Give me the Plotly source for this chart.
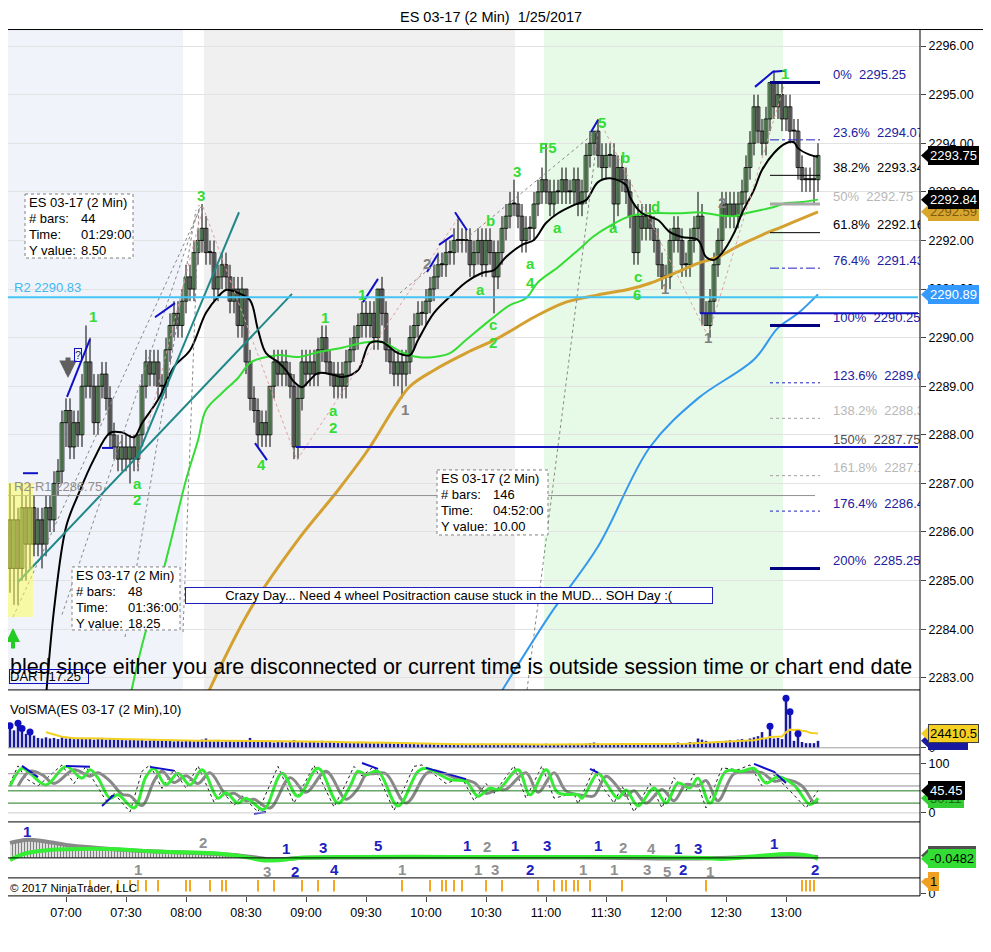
import pandas as pd
import plotly.graph_objects as go

DAY = "2017-01-25 "
FONT = "Liberation Sans, Arial, sans-serif"

# ---- price bars (2 min, 06:32 .. 13:16) ----
FIRST_OPEN = 2286.25
CLOSE = [
    2285.25, 2286.25, 2285.25, 2286.50, 2285.75, 2286.50, 2285.75, 2286.25, 2285.75, 2286.50,
    2286.25, 2287.00, 2287.25, 2288.25, 2288.50, 2287.75, 2288.25, 2288.00, 2289.00, 2289.50,
    2289.00, 2288.25, 2289.00, 2289.25, 2288.75, 2288.00, 2287.75, 2287.50, 2287.75, 2287.50,
    2287.75, 2287.50, 2288.00, 2289.00, 2289.50, 2289.25, 2289.50, 2289.00, 2289.00, 2289.75,
    2290.25, 2290.50, 2290.25, 2290.75, 2291.25, 2291.00, 2291.75, 2292.00, 2292.25, 2291.75,
    2291.75, 2291.00, 2291.25, 2291.50, 2291.25, 2290.75, 2291.00, 2290.25, 2291.00, 2289.50,
    2288.75, 2288.50, 2288.00, 2288.25, 2288.00, 2289.00, 2289.50, 2289.25, 2289.50, 2289.25,
    2289.00, 2287.75, 2288.75, 2289.50, 2289.25, 2289.50, 2289.25, 2289.75, 2290.00, 2289.50,
    2289.25, 2289.00, 2289.25, 2289.00, 2289.50, 2289.75, 2290.00, 2290.25, 2290.50, 2290.25,
    2290.50, 2290.00, 2291.00, 2290.50, 2289.75, 2289.50, 2289.25, 2289.50, 2289.25, 2289.50,
    2290.00, 2290.25, 2290.50, 2290.50, 2290.75, 2291.00, 2291.25, 2291.50, 2291.50, 2291.75,
    2291.75, 2292.00, 2292.00, 2292.00, 2292.00, 2291.50, 2291.75, 2292.00, 2291.50, 2292.00,
    2291.75, 2291.25, 2291.75, 2292.25, 2292.50, 2292.75, 2292.75, 2292.50, 2292.00, 2292.25,
    2292.25, 2292.75, 2293.00, 2293.25, 2293.00, 2292.75, 2293.00, 2293.00, 2293.25, 2293.00,
    2293.00, 2293.25, 2292.75, 2293.00, 2293.75, 2294.00, 2294.25, 2293.75, 2293.50, 2293.75,
    2293.75, 2292.75, 2293.50, 2293.25, 2293.00, 2292.50, 2291.75, 2292.50, 2292.25, 2292.50,
    2292.25, 2292.00, 2291.50, 2291.25, 2291.25, 2292.00, 2292.25, 2292.00, 2291.50, 2291.50,
    2292.00, 2292.25, 2292.50, 2290.50, 2290.25, 2290.75, 2291.50, 2292.00, 2292.75, 2292.50,
    2292.75, 2292.50, 2292.75, 2293.00, 2293.50, 2294.00, 2294.75, 2294.25, 2294.00, 2294.50,
    2295.25, 2294.75, 2295.00, 2294.50, 2294.75, 2294.25, 2294.25, 2293.50, 2293.25, 2293.25,
    2293.25, 2293.25, 2293.75,
]
# wick length beyond the body, in ticks (0.25)
WICK_UP = [
    3, 2, 1, 2, 1, 2, 1, 1, 1, 1,   1, 1, 1, 1, 1, 1, 1, 1, 1, 3,
    2, 1, 1, 1, 1, 1, 1, 1, 1, 1,   1, 1, 0, 1, 1, 1, 1, 1, 1, 1,
    1, 1, 1, 1, 1, 1, 1, 1, 2, 1,   1, 1, 1, 1, 1, 1, 1, 1, 1, 0,
    1, 1, 1, 1, 1, 0, 1, 1, 1, 1,   1, 1, 1, 1, 1, 1, 1, 1, 1, 1,
    1, 1, 1, 1, 1, 1, 1, 1, 1, 1,   1, 1, 0, 1, 1, 1, 1, 1, 1, 1,
    1, 1, 1, 1, 1, 1, 1, 1, 1, 1,   1, 1, 2, 1, 1, 1, 1, 1, 1, 1,
    1, 1, 1, 1, 1, 1, 2, 1, 1, 1,   1, 1, 1, 1, 3, 1, 1, 1, 1, 1,
    1, 1, 1, 1, 1, 1, 0, 1, 1, 1,   1, 1, 1, 1, 1, 1, 1, 1, 1, 1,
    1, 1, 1, 1, 1, 1, 1, 1, 1, 1,   1, 1, 2, 1, 1, 1, 1, 1, 1, 1,
    1, 1, 1, 1, 1, 1, 1, 1, 1, 1,   0, 1, 1, 1, 1, 1, 1, 1, 1, 1,
    1, 2, 1,
]
WICK_DN = [
    2, 3, 3, 1, 3, 2, 1, 1, 2, 1,   1, 1, 1, 1, 2, 1, 1, 1, 1, 1,
    1, 1, 1, 1, 1, 1, 1, 1, 1, 1,   2, 1, 1, 1, 1, 1, 1, 1, 1, 1,
    1, 1, 1, 1, 1, 1, 1, 1, 1, 1,   1, 1, 1, 1, 1, 1, 1, 1, 1, 1,
    1, 1, 1, 1, 1, 1, 1, 1, 1, 1,   1, 1, 1, 1, 1, 1, 1, 1, 1, 1,
    1, 1, 1, 1, 1, 1, 1, 1, 1, 1,   1, 1, 1, 1, 1, 1, 1, 1, 2, 1,
    1, 1, 1, 1, 1, 1, 1, 1, 1, 1,   1, 1, 1, 1, 1, 1, 1, 1, 1, 1,
    1, 3, 1, 1, 1, 1, 1, 1, 1, 1,   1, 1, 1, 1, 1, 1, 1, 1, 1, 1,
    1, 1, 1, 1, 1, 1, 1, 1, 1, 1,   1, 2, 1, 1, 1, 1, 1, 1, 1, 1,
    1, 1, 1, 1, 1, 1, 1, 1, 1, 1,   1, 1, 1, 1, 0, 1, 1, 1, 1, 1,
    1, 1, 1, 1, 1, 1, 1, 1, 1, 1,   1, 1, 1, 1, 1, 1, 1, 1, 1, 1,
    1, 2, 1,
]

# ---- volume (thousands of contracts) ----
VOLUME_K = [
    38, 30, 42, 33, 24, 27, 21, 17, 16, 18,   16, 17, 15, 18, 16, 17, 15, 16, 17, 15,
    16, 14, 15, 17, 14, 15, 16, 14, 15, 13,   14, 15, 13, 14, 12, 13, 14, 12, 13, 12,
    12, 11, 13, 11, 12, 13, 11, 12, 14, 16,   12, 11, 12, 10, 11, 12, 10, 11, 12, 11,
    17, 12, 11, 10, 11, 10, 9, 11, 10, 9,     10, 13, 11, 10, 9, 10, 11, 9, 12, 9,
    10, 9, 8, 10, 9, 8, 9, 10, 8, 9,          8, 9, 10, 8, 9, 8, 7, 9, 8, 7,
    8, 7, 6, 7, 6, 7, 6, 5, 6, 7,             6, 5, 6, 7, 5, 6, 5, 6, 7, 5,
    6, 7, 5, 6, 5, 6, 7, 6, 5, 6,             5, 6, 5, 6, 7, 6, 5, 6, 5, 6,
    7, 6, 5, 6, 7, 8, 9, 7, 6, 5,             6, 7, 6, 8, 7, 6, 7, 6, 5, 6,
    5, 6, 7, 6, 8, 7, 6, 9, 7, 8,             10, 9, 16, 14, 12, 9, 10, 11, 9, 12,
    13, 11, 14, 15, 13, 16, 18, 20, 27, 15,   37, 16, 17, 15, 85, 62, 12, 24, 10, 8,
    8, 8, 12,
]
VOL_DOT_BARS = [0, 2, 3, 5, 190, 194, 195, 197]

# ---- moving averages, read at selected bars ----
MA_FAST_BARS = [9, 11, 14, 17, 21, 25, 28, 31, 33, 37, 41, 45, 49, 52, 54, 57, 60, 62, 64, 67,
                69, 71, 73, 75, 77, 81, 83, 87, 90, 93, 97, 100, 102, 106, 111, 114, 118, 121,
                124, 128, 131, 134, 137, 141, 144, 147, 150, 154, 155, 158, 162, 165, 168, 172,
                174, 176, 178, 181, 183, 186, 188, 191, 194, 196, 197, 200, 202]
MA_FAST = [2282.6, 2284.4, 2286.1, 2286.76, 2287.5, 2288.04, 2288.05, 2287.95, 2288.24, 2288.72,
           2289.4, 2289.74, 2290.51, 2290.84, 2290.98, 2290.92, 2290.77, 2290.16, 2289.68, 2289.5,
           2289.33, 2289.09, 2288.98, 2289.13, 2289.27, 2289.23, 2289.19, 2289.33, 2289.89, 2289.91,
           2289.68, 2289.64, 2289.95, 2290.51, 2290.92, 2291.14, 2291.33, 2291.39, 2291.66, 2291.91,
           2292.01, 2292.36, 2292.56, 2292.73, 2292.83, 2293.2, 2293.28, 2293.14, 2292.89, 2292.56,
           2292.42, 2292.17, 2292.07, 2292.01, 2291.66, 2291.6, 2291.74, 2292.15, 2292.56, 2293.04,
           2293.45, 2293.8, 2294.0, 2294.02, 2293.9, 2293.76, 2293.72]
MA_MID_BARS = [30, 33, 39, 44, 47, 49, 53, 57, 60, 63, 67, 72, 77, 83, 88, 93, 98, 102, 106, 110,
               114, 120, 125, 129, 132, 137, 142, 146, 150, 155, 160, 168, 172, 177, 181, 184, 188,
               191, 194, 198, 202]
MA_MID = [2282.6, 2283.67, 2285.42, 2287.07, 2287.89, 2288.51, 2288.86, 2289.17, 2289.48, 2289.58,
          2289.64, 2289.6, 2289.7, 2289.79, 2289.89, 2289.91, 2289.7, 2289.6, 2289.6, 2289.68,
          2289.95, 2290.36, 2290.67, 2290.81, 2291.14, 2291.45, 2291.8, 2292.09, 2292.3, 2292.5,
          2292.56, 2292.56, 2292.58, 2292.52, 2292.5, 2292.56, 2292.63, 2292.69, 2292.77, 2292.79,
          2292.84]
MA_SLOW_BARS = [49, 60, 72, 82, 90, 96, 100, 106, 114, 122, 131, 139, 147, 155, 160, 164, 168, 172,
                177, 181, 185, 189, 193, 197, 202]
MA_SLOW = [2282.6, 2284.4, 2285.84, 2286.86, 2287.75, 2288.55, 2289.0, 2289.33, 2289.68, 2289.99,
           2290.42, 2290.73, 2290.88, 2291.0, 2291.12, 2291.25, 2291.39, 2291.53, 2291.66, 2291.84,
           2292.0, 2292.15, 2292.28, 2292.42, 2292.59]
MA_LONG_BARS = [122, 135, 147, 160, 172, 186, 192, 197, 202]
MA_LONG = [2282.6, 2284.3, 2285.7, 2287.75, 2288.75, 2289.55, 2290.2, 2290.5, 2290.89]

# ---- stochastics, read at turning points ----
STO_K_BARS = [0, 3, 5, 9, 14, 18, 20, 22, 25, 27, 31, 34, 36, 39, 42, 45, 48, 52, 54, 57,
              59, 63, 64, 68, 72, 77, 82, 85, 87, 89, 92, 97, 102, 104, 110, 114, 117, 120, 122, 127,
              130, 134, 137, 142, 143, 147, 149, 152, 154, 157, 161, 164, 167, 170, 172, 175, 179, 183,
              186, 189, 192, 196, 200, 202]
STO_K = [54, 91, 81, 57, 95, 71, 88, 71, 30, 37, 10, 74, 91, 57, 81, 57, 88, 30, 41, 20,
         30, 7, 10, 81, 34, 91, 20, 54, 85, 78, 85, 14, 85, 91, 68, 64, 34, 51, 47, 88,
         37, 88, 41, 37, 30, 81, 61, 30, 47, 14, 51, 20, 61, 51, 71, 20, 85, 85, 91, 61,
         74, 57, 17, 30.11]
STO_D_BARS = [2, 5, 8, 11, 16, 20, 22, 25, 28, 30, 33, 36, 38, 41, 44, 47, 50, 54, 56, 59,
              61, 65, 70, 74, 79, 84, 87, 89, 91, 94, 99, 104, 106, 112, 116, 119, 122, 124, 129, 132,
              136, 139, 144, 146, 149, 151, 154, 156, 159, 163, 166, 169, 172, 174, 177, 181, 185, 188,
              191, 194, 198, 201, 202]
STO_D = [55, 85, 78, 60, 88, 75, 82, 65, 38, 35, 15, 65, 85, 62, 76, 60, 82, 38, 40, 25,
         28, 10, 72, 42, 85, 28, 50, 78, 80, 80, 20, 80, 86, 70, 62, 40, 48, 48, 82, 42,
         82, 45, 35, 35, 75, 62, 35, 45, 20, 48, 25, 58, 55, 66, 25, 80, 84, 82, 65, 68,
         55, 22, 24]
STO_RAW_BARS = [0, 2, 4, 7, 13, 16, 19, 21, 24, 26, 30, 33, 35, 38, 41, 44, 47, 51, 53, 56,
                58, 62, 67, 71, 76, 81, 84, 86, 88, 91, 96, 101, 103, 109, 113, 116, 119, 121, 126, 129,
                133, 136, 141, 142, 146, 148, 151, 153, 156, 160, 163, 166, 169, 171, 174, 178, 182, 185,
                188, 191, 195, 199, 202]
STO_RAW = [60, 96, 70, 55, 98, 60, 95, 65, 25, 40, 2, 85, 98, 50, 88, 50, 96, 22, 45, 15,
           35, 2, 95, 20, 97, 12, 60, 95, 75, 95, 5, 95, 98, 60, 72, 25, 60, 40, 96, 30,
           96, 30, 40, 18, 90, 55, 20, 55, 2, 60, 10, 72, 45, 80, 10, 92, 88, 98, 55, 78,
           45, 10, 45.45]
STO_DIV = [[(3, 96), (7, 73)], [(14, 96), (20, 94)], [(23, 14), (26, 37)], [(35, 94), (41, 86)],
           [(61, -2), (64, 2)], [(88, 102), (92, 90)], [(104, 92), (114, 69)], [(145, 90), (147, 82)],
           [(186, 100), (191, 84), (194, 61)]]

# ---- oscillator panel ----
OSC_SIG_BARS = [0, 4, 8, 14, 22, 31, 39, 48, 56, 61, 64, 69, 72, 85, 98, 110, 122, 137, 153, 162,
                172, 178, 187, 195, 202]
OSC_SIG = [0.75, 0.9, 0.85, 0.65, 0.5, 0.37, 0.3, 0.23, 0.15, 0.03, -0.05, -0.05, 0.0, 0.02, 0.03,
           0.03, 0.02, 0.02, 0.0, -0.03, -0.03, 0.0, 0.05, 0.1, 0.05]
OSC_BARS = [0, 4, 10, 18, 27, 35, 43, 52, 60, 63, 68, 72, 85, 110, 135, 160, 174, 178, 187, 195, 200, 202]
OSC = [-0.1, 0.23, 0.4, 0.45, 0.43, 0.33, 0.28, 0.22, 0.0, -0.12, -0.1, 0.0, 0.05, 0.05, 0.05, 0.04,
       0.0, -0.05, 0.1, 0.2, 0.1, -0.0482]

SIGNAL_BARS = [20, 27, 30, 32, 34, 37, 44, 45, 50, 53, 54, 62, 66, 73, 77, 81, 98, 105, 108, 109,
               111, 113, 119, 123, 132, 136, 138, 139, 141, 142, 145, 153, 174, 198, 199, 200, 201]

TIME_TICKS = ["07:00", "07:30", "08:00", "08:30", "09:00", "09:30", "10:00", "10:30",
              "11:00", "11:30", "12:00", "12:30", "13:00"]

FIB_PCT = ["0%", "23.6%", "38.2%", "50%", "61.8%", "76.4%", "100%", "123.6%", "138.2%",
           "150%", "161.8%", "176.4%", "200%"]
FIB_PRICE = [2295.25, 2294.07, 2293.34, 2292.75, 2292.16, 2291.43, 2290.25, 2289.07, 2288.34,
             2287.75, 2287.16, 2286.43, 2285.25]

WAVE_LABELS = [
    ("07:13:30", 2290.44, "1", "g"), ("08:07:30", 2292.93, "3", "g"), ("07:35:30", 2286.99, "a", "g"),
    ("07:35:30", 2286.66, "2", "g"), ("08:37:30", 2287.38, "4", "g"), ("09:09:30", 2290.42, "1", "g"),
    ("09:13:30", 2288.51, "a", "g"), ("09:13:30", 2288.16, "2", "g"), ("09:28:00", 2290.88, "1", "g"),
    ("10:32:00", 2292.42, "b", "g"), ("10:27:00", 2291.0, "a", "g"), ("10:33:30", 2290.26, "c", "g"),
    ("10:33:30", 2289.89, "2", "g"), ("10:45:30", 2293.41, "3", "g"), ("10:52:00", 2291.53, "a", "g"),
    ("10:52:00", 2291.14, "4", "g"), ("11:05:30", 2292.26, "a", "g"), ("11:01:00", 2293.92, "F5", "g"),
    ("11:28:00", 2294.42, "5", "g"), ("11:39:30", 2293.70, "b", "g"), ("11:33:30", 2292.26, "a", "g"),
    ("11:54:30", 2292.69, "d", "g"), ("11:46:00", 2291.25, "c", "g"), ("11:45:30", 2290.88, "6", "g"),
    ("12:59:30", 2295.44, "1", "g"),
    ("10:00:30", 2291.53, "2", "k"), ("09:49:30", 2288.53, "1", "k"), ("11:59:30", 2291.02, "1", "k"),
    ("12:21:00", 2290.01, "1", "k"), ("12:28:00", 2292.79, "2", "k"),
]
OSC_LABELS = [
    ("06:40:30", 1.3, "1", "b"), ("08:08:30", 0.75, "2", "k"), ("07:36:00", -0.6, "1", "k"),
    ("08:40:30", -0.7, "3", "k"), ("08:50:00", 0.45, "1", "b"), ("08:54:30", -0.7, "2", "b"),
    ("09:08:30", 0.5, "3", "b"), ("09:14:00", -0.6, "4", "b"), ("09:36:00", 0.6, "5", "b"),
    ("09:48:00", -0.6, "1", "k"), ("10:20:30", 0.6, "1", "b"), ("10:30:30", 0.55, "2", "k"),
    ("10:26:00", -0.6, "1", "k"), ("10:34:30", -0.6, "3", "k"), ("10:44:30", 0.6, "1", "b"),
    ("10:52:00", -0.6, "2", "b"), ("11:00:30", 0.6, "3", "b"), ("11:18:30", -0.6, "1", "k"),
    ("11:26:00", 0.6, "1", "b"), ("11:34:00", -0.6, "1", "k"), ("11:38:30", 0.5, "2", "k"),
    ("11:50:30", -0.6, "3", "k"), ("11:52:30", 0.45, "4", "k"), ("12:00:30", -0.7, "5", "k"),
    ("12:06:00", 0.45, "1", "b"), ("12:08:30", -0.6, "2", "b"), ("12:16:00", 0.45, "3", "b"),
    ("12:22:00", -0.7, "1", "k"), ("12:54:00", 0.7, "1", "b"), ("13:14:30", -0.6, "2", "b"),
]

# page has an 8px body margin and the capture is squeezed a little vertically:
# lay the figure out in page pixels
W, H, OFF, VS = 975, 928, 8, 952 / 957


def ts(hm):
    return DAY + hm


def PX(x):
    return (x - OFF) / W


def PY(y):
    return 1 - (y / VS - OFF) / H


times = pd.date_range(DAY + "06:32", periods=len(CLOSE), freq="2min")
opens = [FIRST_OPEN] + CLOSE[:-1]
highs = [max(o, c) + 0.25 * u for o, c, u in zip(opens, CLOSE, WICK_UP)]
lows = [min(o, c) - 0.25 * d for o, c, d in zip(opens, CLOSE, WICK_DN)]
vol = pd.Series(VOLUME_K) * 1000
vol_sma = vol.rolling(10).mean()

fig = go.Figure()
shapes = []
ann = []


def note(x, y, text, size=12, color="black", xa="center", **kw):
    ann.append(dict(xref="paper", yref="paper", x=PX(x), y=PY(y), text=text, xanchor=xa,
                    yanchor="middle", showarrow=False, font=dict(size=size, color=color), **kw))


# background sessions
for x0, x1, col in [("06:31", "07:58:30", "#f1f3fb"), ("08:09", "10:44:30", "#f0f0f0"),
                    ("10:59", "12:58:30", "#e7f9e7")]:
    shapes.append(dict(type="rect", xref="x", yref="paper", x0=ts(x0), x1=ts(x1),
                       y0=PY(690), y1=PY(30), fillcolor=col, line=dict(width=0), layer="below"))

# candles: wicks then bodies
wick_x, wick_y = [], []
for t, lo, hi in zip(times, lows, highs):
    wick_x += [t, t, None]
    wick_y += [lo, hi, None]
fig.add_trace(go.Scatter(x=wick_x, y=wick_y, mode="lines", line=dict(color="black", width=1),
                         xaxis="x", yaxis="y", hoverinfo="skip"))
body_base = [min(o, c) for o, c in zip(opens, CLOSE)]
body_len = [max(abs(c - o), 0.02) for o, c in zip(opens, CLOSE)]
body_col = ["#98dc98" if c > o else ("#a4a4a4" if c < o else "#000000") for o, c in zip(opens, CLOSE)]
fig.add_trace(go.Bar(x=times, y=body_len, base=body_base, width=116000,
                     marker=dict(color=body_col, line=dict(color="black", width=0.8)),
                     xaxis="x", yaxis="y", hoverinfo="skip"))

for bars, vals, col, w in [(MA_LONG_BARS, MA_LONG, "#3399ee", 2), (MA_SLOW_BARS, MA_SLOW, "#d4a030", 3),
                           (MA_MID_BARS, MA_MID, "#33dd33", 2), (MA_FAST_BARS, MA_FAST, "#000000", 2)]:
    fig.add_trace(go.Scatter(x=times[bars], y=vals, mode="lines", line=dict(color=col, width=w, shape="spline"),
                             xaxis="x", yaxis="y", hoverinfo="skip"))


def hline(t0, t1, p, col, w, dash="solid"):
    shapes.append(dict(type="line", xref="x", yref="y", x0=ts(t0), x1=ts(t1), y0=p, y1=p,
                       line=dict(color=col, width=w, dash=dash)))


hline("06:31", "14:06", 2290.83, "#44c4f4", 2)
hline("06:31", "13:14:30", 2286.75, "#909090", 1)
hline("08:55", "14:06", 2287.75, "#1010c0", 2)
hline("12:17", "14:06", 2290.50, "#1010c0", 2)
ann.append(dict(xref="x", yref="y", x=ts("06:33"), y=2290.83, text="R2 2290.83", xanchor="left",
                yanchor="bottom", showarrow=False, font=dict(color="#40b8f0", size=13)))
ann.append(dict(xref="x", yref="y", x=ts("06:33"), y=2286.75, text="R2-R1 2286.75", xanchor="left",
                yanchor="bottom", showarrow=False, font=dict(color="#909090", size=13)))

fib_style = [("#000080", 3, "solid"), ("#2020c0", 1, "dashdot"), ("#000000", 1, "solid"),
             ("#a8a8a8", 3, "solid"), ("#000000", 1, "solid"), ("#2020c0", 1, "dashdot"),
             ("#000080", 3, "solid"), ("#2020c0", 1, "dot"), ("#a0a0a0", 1, "dot"),
             (None, 0, "solid"), ("#a0a0a0", 1, "dot"), ("#2020c0", 1, "dot"), ("#000080", 3, "solid")]
fib_text_col = ["#2020a0", "#2020a0", "#000000", "#b8b8b8", "#000000", "#2020a0", "#2020a0",
                "#2020a0", "#b8b8b8", "#505050", "#b8b8b8", "#2020a0", "#2020a0"]
for p, (col, w, dash) in zip(FIB_PRICE, fib_style):
    if col:
        hline("12:52", "13:17", p, col, w, dash)
fig.add_trace(go.Scatter(
    x=[ts("13:23:30")] * len(FIB_PRICE), y=FIB_PRICE, mode="text",
    text=[f"{a}\u00a0\u00a0{b:.2f}" for a, b in zip(FIB_PCT, FIB_PRICE)],
    textposition="top right", textfont=dict(color=fib_text_col, size=13, family=FONT),
    cliponaxis=True, xaxis="x", yaxis="y", hoverinfo="skip"))


def seg(pts, col, w, dash="solid", yref="y"):
    fig.add_trace(go.Scatter(x=[ts(a) for a, _ in pts], y=[b for _, b in pts], mode="lines",
                             line=dict(color=col, width=w, dash=dash), xaxis="x",
                             yaxis=yref, hoverinfo="skip"))


for pts in [[("06:33:30", 2284.25), ("08:07:30", 2292.69)], [("07:58:30", 2283.94), ("08:06:30", 2292.73)],
            [("07:29:30", 2283.84), ("08:05:00", 2292.63)], [("09:47:00", 2290.92), ("11:26:00", 2294.27)],
            [("10:50:30", 2282.75), ("11:26:00", 2294.23)], [("06:58:00", 2284.3), ("08:07:00", 2292.7)]]:
    seg(pts, "#888888", 1, "dot")
for pts in [[("08:08:30", 2292.69), ("08:55:30", 2287.48)], [("08:55:30", 2287.48), ("10:16:00", 2292.46)],
            [("11:28:00", 2294.37), ("12:21:00", 2290.03)], [("12:21:00", 2290.03), ("12:59:30", 2295.24)],
            [("07:35:30", 2287.28), ("08:08:30", 2292.69)]]:
    seg(pts, "#e0a0a0", 1, "dot")
seg([("06:36:00", 2284.97), ("08:53:00", 2290.90)], "#208888", 2)
seg([("07:35:30", 2287.54), ("08:26:30", 2292.58)], "#208888", 2)
for pts in [[("07:00:30", 2288.78), ("07:12:00", 2289.97)], [("07:44:30", 2290.42), ("07:54:30", 2290.71)],
            [("08:34:30", 2287.83), ("08:40:30", 2287.48)], [("09:28:30", 2290.73), ("09:36:00", 2291.21)],
            [("10:00:30", 2291.35), ("10:06:00", 2291.72)], [("10:06:30", 2291.91), ("10:13:30", 2292.11)],
            [("10:14:30", 2292.58), ("10:20:30", 2292.21)], [("11:22:30", 2294.23), ("11:26:00", 2294.48)],
            [("12:44:30", 2295.16), ("12:53:30", 2295.47), ("12:59:30", 2295.49)],
            [("06:38:30", 2287.21), ("06:46:00", 2287.21)], [("07:18:00", 2287.73), ("07:23:30", 2287.73)]]:
    seg(pts, "#1010c8", 2)

shapes.append(dict(type="rect", xref="x", yref="y", x0=ts("06:31"), x1=ts("06:43:30"), y0=2284.25,
                   y1=2287.01, fillcolor="rgba(255,255,80,0.5)", line=dict(width=0), layer="above"))

for t, p, txt, kind in WAVE_LABELS:
    ann.append(dict(xref="x", yref="y", x=ts(t), y=p, text=f"<b>{txt}</b>", showarrow=False,
                    xanchor="center", yanchor="middle",
                    font=dict(color="#33dd33" if kind == "g" else "#808080", size=15)))

# arrows and small boxes
ann.append(dict(xref="paper", yref="paper", x=PX(68), y=PY(378), ax=0, ay=-22, text="", showarrow=True,
                arrowhead=2, arrowsize=0.7, arrowwidth=5, arrowcolor="#606060"))
ann.append(dict(xref="paper", yref="paper", x=PX(13), y=PY(628), ax=0, ay=22, text="", showarrow=True,
                arrowhead=2, arrowsize=0.7, arrowwidth=4, arrowcolor="#22cc22"))
note(77.5, 355.5, "?", size=11, color="#303030", bordercolor="#1010c0", borderwidth=1, borderpad=0)


def ruler(x0, y0, x1, y1, vals):
    shapes.append(dict(type="rect", xref="paper", yref="paper", x0=PX(x0), x1=PX(x1), y0=PY(y0), y1=PY(y1),
                       fillcolor="white", line=dict(color="#808080", width=1, dash="dot"), layer="above"))
    labels = ["ES 03-17 (2 Min)", "# bars:", "Time:", "Y value:"]
    for k, lab in enumerate(labels):
        yy = y0 + 8.5 + 16 * k
        note(x0 + 2, yy, lab, size=13, xa="left")
        if k:
            note(x0 + 54, yy, vals[k - 1], size=13, xa="left")


ruler(25, 194, 133, 258, ["44", "01:29:00", "8.50"])
ruler(72, 567, 180, 630, ["48", "01:36:00", "18.25"])
ruler(437, 470, 548, 535, ["146", "04:52:00", "10.00"])

note(449, 595.5, "Crazy Day... Need 4 wheel Positraction cause stuck in the MUD... SOH Day :(", size=13,
     width=526, height=15, bgcolor="white", bordercolor="#2020c0", borderwidth=1, borderpad=0)
note(8, 667, "bled since either you are disconnected or current time is outside session time or chart end date",
     size=21.5, xa="left")
note(9, 677, "DART 17.25", size=13, xa="left", width=78, height=13, align="left",
     bordercolor="#1010c0", borderwidth=1, borderpad=0)

# ---- volume panel ----
fig.add_trace(go.Bar(x=times, y=vol, width=75000, marker=dict(color="#1a1a9c", line=dict(width=0)),
                     xaxis="x", yaxis="y2", hoverinfo="skip"))
fig.add_trace(go.Scatter(x=times, y=vol_sma, mode="lines", line=dict(color="#f4d020", width=2),
                         xaxis="x", yaxis="y2", hoverinfo="skip"))
fig.add_trace(go.Scatter(x=times[VOL_DOT_BARS], y=vol[VOL_DOT_BARS], mode="markers",
                         marker=dict(color="#1010c0", size=7), xaxis="x", yaxis="y2", hoverinfo="skip"))
shapes.append(dict(type="line", xref="paper", yref="y2", x0=PX(8), x1=PX(920), y0=0, y1=0,
                   line=dict(color="#a0a0a0", width=1)))
note(8, 710, "VolSMA(ES 03-17 (2 Min),10)", size=13, xa="left")

# ---- stochastics panel ----
for lv, col in [(80, "#909090"), (55, "#909090"), (45, "#1e7a1e"), (20, "#1e7a1e"), (0, "#cccccc")]:
    shapes.append(dict(type="line", xref="paper", yref="y3", x0=PX(8), x1=PX(920), y0=lv, y1=lv,
                       line=dict(color=col, width=1)))
fig.add_trace(go.Scatter(x=times[STO_RAW_BARS], y=STO_RAW, mode="lines",
                         line=dict(color="#202020", width=1, dash="dot"), xaxis="x", yaxis="y3", hoverinfo="skip"))
fig.add_trace(go.Scatter(x=times[STO_D_BARS], y=STO_D, mode="lines",
                         line=dict(color="#888888", width=3, shape="spline"), xaxis="x", yaxis="y3", hoverinfo="skip"))
fig.add_trace(go.Scatter(x=times[STO_K_BARS], y=STO_K, mode="lines",
                         line=dict(color="#33ee33", width=3, shape="spline"), xaxis="x", yaxis="y3", hoverinfo="skip"))
for pts in STO_DIV:
    fig.add_trace(go.Scatter(x=[times[b] for b, _ in pts], y=[v for _, v in pts], mode="lines",
                             line=dict(color="#1010c8", width=2), xaxis="x", yaxis="y3", hoverinfo="skip"))

# ---- oscillator panel ----
shapes.append(dict(type="line", xref="paper", yref="y4", x0=PX(8), x1=PX(920), y0=0, y1=0,
                   line=dict(color="black", width=1)))
fig.add_trace(go.Scatter(x=times[OSC_SIG_BARS], y=OSC_SIG, mode="lines", fill="tozeroy",
                         fillpattern=dict(shape="|", fgcolor="#000000", bgcolor="rgba(255,255,255,0)", size=3, solidity=0.5),
                         line=dict(color="#888888", width=4, shape="spline"), xaxis="x", yaxis="y4", hoverinfo="skip"))
fig.add_trace(go.Scatter(x=times[OSC_BARS], y=OSC, mode="lines",
                         line=dict(color="#33ee33", width=4, shape="spline"), xaxis="x", yaxis="y4", hoverinfo="skip"))
for t, v, txt, kind in OSC_LABELS:
    ann.append(dict(xref="x", yref="y4", x=ts(t), y=v, text=f"<b>{txt}</b>", showarrow=False,
                    xanchor="center", yanchor="middle",
                    font=dict(color="#2020c0" if kind == "b" else "#909090", size=15)))

# ---- signal panel ----
fig.add_trace(go.Bar(x=times[SIGNAL_BARS], y=[0.95] * len(SIGNAL_BARS), base=0.2, width=60000,
                     marker=dict(color="#f5a623", line=dict(width=0)), xaxis="x", yaxis="y5", hoverinfo="skip"))
note(8, 888, "© 2017 NinjaTrader, LLC", size=11.5, xa="left")


def tag(yref, value, text, bg, fg, px_per_unit, border=None):
    h = 7.5 / px_per_unit
    shapes.append(dict(type="path", xref="paper", yref=yref,
                       path=f"M {PX(921)},{value} L {PX(929)},{value + h} L {PX(929)},{value - h} Z",
                       fillcolor=bg, line=dict(width=0), layer="above"))
    ann.append(dict(xref="paper", yref=yref, x=PX(928), y=value, text=text, xanchor="left",
                    yanchor="middle", showarrow=False, bgcolor=bg, borderpad=1,
                    bordercolor=border or bg, borderwidth=1, font=dict(color=fg, size=13)))


tag("y", 2292.59, "2292.59", "#d8a62c", "#7a5a12", 48.6)
tag("y", 2292.84, "2292.84", "#000000", "#ffffff", 48.6)
tag("y", 2293.75, "2293.75", "#000000", "#ffffff", 48.6)
tag("y", 2290.89, "2290.89", "#3399ff", "#ffffff", 48.6)
tag("y2", vol.iloc[-1], "12000", "#1a1aa0", "#1a1aa0", 1 / 1744)
tag("y2", vol_sma.iloc[-1], "24410.5", "#f5d020", "#000000", 1 / 1744, border="#404040")
tag("y3", 30.11, "30.11", "#33cc33", "#1a6a1a", 0.49)
tag("y3", 45.45, "45.45", "#000000", "#ffffff", 0.49)
tag("y4", 0.12, "-0.0482", "#505050", "#505050", 20)
tag("y4", -0.0482, "-0.0482", "#33dd33", "#000000", 20)
tag("y5", 1, "1", "#f0a020", "#000000", 12)

# frame lines
for y in [29.5, 690, 755, 822, 878, 896]:
    shapes.append(dict(type="line", xref="paper", yref="paper", x0=0, x1=1 if y < 30 else PX(920),
                       y0=PY(y), y1=PY(y), line=dict(color="black", width=1)))
shapes.append(dict(type="line", xref="paper", yref="paper", x0=PX(920), x1=PX(920), y0=PY(29.5), y1=PY(896),
                   line=dict(color="black", width=1)))

note(491, 17, "ES 03-17 (2 Min)\u00a0\u00a01/25/2017", size=14.5)

axis_common = dict(anchor="x", side="right", ticks="outside", ticklen=5, zeroline=False,
                   showgrid=False, tickfont=dict(size=12.5))
fig.update_layout(
    width=W, height=H, margin=dict(l=0, r=0, t=0, b=0),
    paper_bgcolor="white", plot_bgcolor="white", showlegend=False, barmode="overlay",
    font=dict(family=FONT, size=12, color="black"),
    xaxis=dict(domain=[0, PX(920)], anchor="y5", type="date", range=[ts("06:31"), ts("14:07")],
               tickvals=[ts(t) for t in TIME_TICKS], ticktext=TIME_TICKS, ticks="outside", ticklen=5,
               showgrid=False, zeroline=False, tickfont=dict(size=12.5)),
    yaxis=dict(axis_common, domain=[PY(690), PY(30)], range=[2282.75, 2296.33], dtick=1, tick0=2283,
               tickformat=".2f", showgrid=True, gridcolor="#e2e2e2"),
    yaxis2=dict(axis_common, domain=[PY(755), PY(690)], range=[-12200, 99400], tickvals=[0]),
    yaxis3=dict(axis_common, domain=[PY(822), PY(755)], range=[-18.4, 118.4], tickvals=[0, 100]),
    yaxis4=dict(axis_common, domain=[PY(878), PY(822)], range=[-1.0, 1.8], showticklabels=False, ticks=""),
    yaxis5=dict(axis_common, domain=[PY(896), PY(878)], range=[-0.17, 1.33], tickvals=[0]),
    shapes=shapes, annotations=ann,
)

fig.write_html("out.html")
